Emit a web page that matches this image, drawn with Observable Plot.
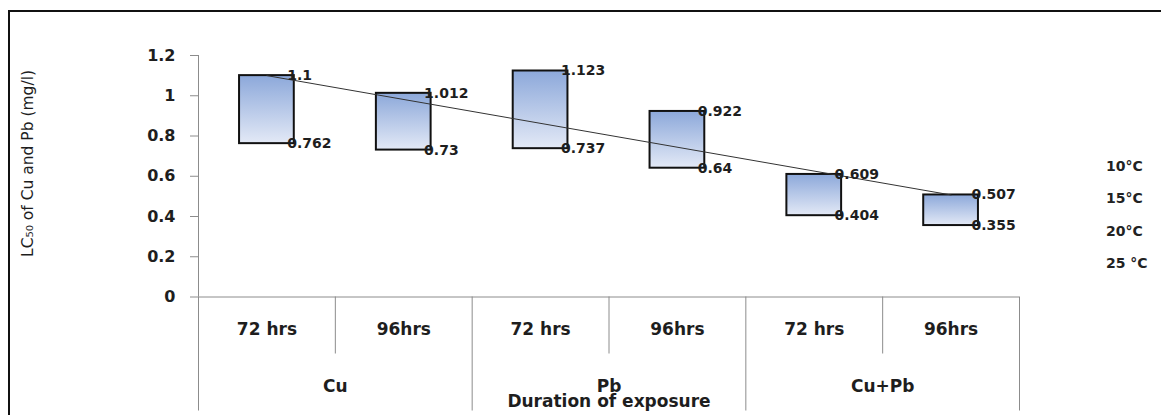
<!DOCTYPE html>
<html><head><meta charset="utf-8">
<script src="https://cdn.jsdelivr.net/npm/d3@7"></script>
<script src="https://cdn.jsdelivr.net/npm/@observablehq/plot@0.6"></script>
<style>
body{margin:0;background:#fff;}
#wrap{position:relative;width:1161px;height:415px;overflow:hidden;background:#fff;}
#chart{position:absolute;left:0;top:0;}
#frame{position:absolute;left:7.5px;top:10px;right:-10px;bottom:-10px;border-left:2.5px solid #111;border-top:2.5px solid #111;pointer-events:none;}
#legend{position:absolute;left:1106px;top:149.5px;font:bold 14px "DejaVu Sans";color:#222;line-height:32.5px;}
</style></head><body>
<div id="wrap"><div id="chart"></div><div id="frame"></div><div id="legend"></div></div>
<script>
const categories = ["72 hrs", "96hrs", "72 hrs", "96hrs", "72 hrs", "96hrs"];
const groups = ["Cu", "Pb", "Cu+Pb"];
const highValues = [1.1, 1.012, 1.123, 0.922, 0.609, 0.507];
const lowValues = [0.762, 0.73, 0.737, 0.64, 0.404, 0.355];
const highLabels = ["1.1", "1.012", "1.123", "0.922", "0.609", "0.507"];
const lowLabels = ["0.762", "0.73", "0.737", "0.64", "0.404", "0.355"];
const yTicks = [0, 0.2, 0.4, 0.6, 0.8, 1, 1.2];
const yTickLabels = ["0", "0.2", "0.4", "0.6", "0.8", "1", "1.2"];
const legendLabels = ["10°C", "15°C", "20°C", "25 °C"];
const yLabel = "LC₅₀ of Cu and Pb (mg/l)";
const xLabel = "Duration of exposure";

const perGroup = categories.length / groups.length;
const rows = categories.map((c, k) => ({
  pos: k + 1, cat: c, group: groups[Math.floor(k / perGroup)],
  high: highValues[k], low: lowValues[k], highLabel: highLabels[k], lowLabel: lowLabels[k]
}));
const groupRows = groups.map((g, j) => ({name: g, center: j * perGroup + (perGroup + 1) / 2}));
const groupBounds = d3.range(groups.length + 1).map(j => j * perGroup + 0.5);
const subBounds = d3.range(1, categories.length).map(k => k + 0.5).filter(b => !groupBounds.includes(b));
const boxHalf = 0.2;
const axisGray = "#8c8c8c";
const txt = "#1e1e1e";
const F = "DejaVu Sans";

const svg = Plot.plot({
  width: 1161, height: 415,
  marginLeft: 198, marginRight: 142, marginTop: 55, marginBottom: 118.5,
  x: {type: "linear", domain: [0.5, categories.length + 0.5], axis: null},
  y: {domain: [0, 1.2], axis: null},
  marks: [
    // y axis line and ticks
    Plot.ruleX([groupBounds[0]], {y1: yTicks[yTicks.length - 1], y2: 0, stroke: axisGray, strokeWidth: 1}),
    Plot.ruleY(yTicks, {x1: groupBounds[0], x2: groupBounds[0], insetLeft: -8, stroke: axisGray, strokeWidth: 1}),
    Plot.text(yTicks, {x: groupBounds[0], y: d => d, text: (d, i) => yTickLabels[i], textAnchor: "end", dx: -23,
      fontFamily: F, fontWeight: "bold", fontSize: 16, fill: txt}),
    // category table below the plot
    Plot.ruleY([0], {x1: groupBounds[0], x2: groupBounds[groupBounds.length - 1], stroke: axisGray, strokeWidth: 1}),
    Plot.ruleX(groupBounds, {y1: 0, y2: 0, insetBottom: -114, stroke: axisGray, strokeWidth: 1}),
    Plot.ruleX(subBounds, {y1: 0, y2: 0, insetBottom: -57, stroke: axisGray, strokeWidth: 1}),
    Plot.text(rows, {x: "pos", y: 0, dy: 32.5, text: "cat", fontFamily: F, fontWeight: "bold", fontSize: 17, fill: txt}),
    Plot.text(groupRows, {x: "center", y: 0, dy: 89.5, text: "name", fontFamily: F, fontWeight: "bold", fontSize: 17, fill: txt}),
    Plot.text([xLabel], {frameAnchor: "bottom", textAnchor: "middle", lineAnchor: "middle", dy: 105, text: d => d,
      fontFamily: F, fontWeight: "bold", fontSize: 17, fill: txt}),
    // y label
    Plot.text([yLabel], {frameAnchor: "left", textAnchor: "middle", lineAnchor: "middle", rotate: -90, dx: -170, dy: -12.75,
      text: d => d, fontFamily: F, fontSize: 15.5, fill: txt}),
    // boxes
    Plot.rect(rows, {x1: d => d.pos - boxHalf, x2: d => d.pos + boxHalf, y1: "low", y2: "high",
      fill: "url(#boxgrad)", stroke: "#111", strokeWidth: 2}),
    // line from first to last high value
    Plot.line([rows[0], rows[rows.length - 1]], {x: "pos", y: "high", stroke: "#333", strokeWidth: 1}),
    // value labels
    Plot.text(rows, {x: d => d.pos + boxHalf, y: "high", text: "highLabel", textAnchor: "start", dx: -7,
      fontFamily: F, fontWeight: "bold", fontSize: 14, fill: txt}),
    Plot.text(rows, {x: d => d.pos + boxHalf, y: "low", text: "lowLabel", textAnchor: "start", dx: -7,
      fontFamily: F, fontWeight: "bold", fontSize: 14, fill: txt})
  ]
});

const defs = d3.select(svg).insert("defs", ":first-child");
const grad = defs.append("linearGradient").attr("id", "boxgrad")
  .attr("x1", 0).attr("y1", 0).attr("x2", 0).attr("y2", 1);
grad.append("stop").attr("offset", "0%").attr("stop-color", "#8ca8da");
grad.append("stop").attr("offset", "100%").attr("stop-color", "#e3e9f6");

document.getElementById("chart").appendChild(svg);
document.getElementById("legend").innerHTML = legendLabels.map(l => `<div>${l}</div>`).join("");
</script>
</body></html>
